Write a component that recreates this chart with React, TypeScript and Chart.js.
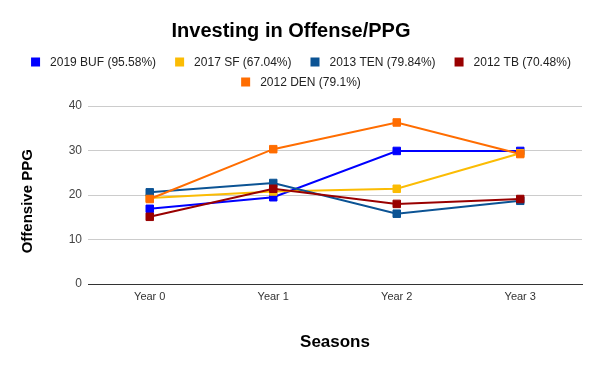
import React, { useEffect, useRef } from 'react';
import { Chart, registerables } from 'chart.js';

Chart.register(...registerables);

const categories = ['Year 0', 'Year 1', 'Year 2', 'Year 3'];
const seriesNames = [
  '2019 BUF (95.58%)',
  '2017 SF (67.04%)',
  '2013 TEN (79.84%)',
  '2012 TB (70.48%)',
  '2012 DEN (79.1%)',
];
const buf = [16.9, 19.5, 29.9, 29.9];
const sf = [19.3, 20.8, 21.4, 29.4];
const ten = [20.6, 22.7, 15.8, 18.7];
const tb = [15.1, 21.4, 18.0, 19.1];
const den = [19.1, 30.3, 36.3, 29.2];
const seriesColors = ['#0000ff', '#fbbc04', '#0b5394', '#990000', '#ff6d01'];
const yMin = 0;
const yMax = 40;
const yStep = 10;

const FONT = '"Liberation Sans", Arial, sans-serif';

const legendPlugin = {
  id: 'customLegend',
  afterDraw(chart: any) {
    const ctx = chart.ctx;
    const items = chart.data.datasets.map((d: any) => ({ text: d.label, color: d.borderColor }));
    const box = 9;
    const gap = 10;
    const itemGap = 19;
    const maxW = chart.width - 20;
    ctx.save();
    ctx.font = `12px ${FONT}`;
    const rows: any[][] = [[]];
    const rowW: number[] = [0];
    items.forEach((it: any) => {
      const w = box + gap + ctx.measureText(it.text).width;
      const r = rows.length - 1;
      const nw = rowW[r] + (rows[r].length ? itemGap : 0) + w;
      if (rows[r].length && nw > maxW) {
        rows.push([{ ...it, w }]);
        rowW.push(w);
      } else {
        rows[r].push({ ...it, w });
        rowW[r] = nw;
      }
    });
    const rowY = [62, 82];
    rows.forEach((row, ri) => {
      let x = chart.width / 2 + 1 - rowW[ri] / 2;
      const y = rowY[ri] ?? 62 + ri * 20;
      row.forEach((it: any) => {
        ctx.fillStyle = it.color;
        ctx.fillRect(x, y - box / 2, box, box);
        ctx.fillStyle = '#222222';
        ctx.textBaseline = 'middle';
        ctx.textAlign = 'left';
        ctx.fillText(it.text, x + box + gap, y + 0.5);
        x += it.w + itemGap;
      });
    });
    ctx.restore();
  },
};

export default function App() {
  const ref = useRef<HTMLCanvasElement | null>(null);

  useEffect(() => {
    document.body.style.margin = '0';
    const canvas = ref.current;
    if (!canvas) return;
    const values = [buf, sf, ten, tb, den];
    const chart = new Chart(canvas, {
      type: 'line',
      data: {
        labels: categories,
        datasets: values.map((v, i) => ({
          label: seriesNames[i],
          data: v,
          borderColor: seriesColors[i],
          backgroundColor: seriesColors[i],
          pointBackgroundColor: seriesColors[i],
          pointBorderColor: seriesColors[i],
          borderWidth: 2,
          pointStyle: 'rect',
          pointRadius: 5.3,
          pointBorderWidth: 1,
          tension: 0,
          fill: false,
          order: values.length - i,
        })),
      },
      options: {
        responsive: false,
        animation: false,
        devicePixelRatio: 1,
        layout: { padding: { left: 0, right: 18, top: 0, bottom: 0 } },
        plugins: {
          legend: { display: false },
          tooltip: { enabled: false },
          title: {
            display: true,
            text: 'Investing in Offense/PPG',
            color: '#000000',
            font: { family: FONT, size: 20, weight: 'bold' },
            padding: { top: 19, bottom: 63 },
          },
        },
        scales: {
          x: {
            offset: true,
            grid: { display: false, drawTicks: false },
            border: { display: true, color: '#333333', width: 1 },
            ticks: {
              color: '#333333',
              font: { family: FONT, size: 11 },
              padding: 6,
            },
            title: {
              display: true,
              text: 'Seasons',
              color: '#000000',
              font: { family: FONT, size: 17, weight: 'bold' },
              padding: { top: 0, bottom: 18 },
            },
            afterFit: (scale: any) => {
              scale.height = 87;
            },
          },
          y: {
            min: yMin,
            max: yMax,
            grid: {
              drawTicks: false,
              color: (c: any) => (c.tick && c.tick.value === 0 ? '#333333' : '#cccccc'),
            },
            border: { display: false },
            ticks: {
              stepSize: yStep,
              color: '#444444',
              font: { family: FONT, size: 12 },
              padding: 6,
            },
            title: {
              display: true,
              text: 'Offensive PPG   ',
              color: '#000000',
              font: { family: FONT, size: 15, weight: 'bold' },
              padding: { top: 19, bottom: 0 },
            },
            afterFit: (scale: any) => {
              scale.width = 88;
            },
          },
        },
      },
      plugins: [legendPlugin],
    });
    return () => chart.destroy();
  }, []);

  return (
    <div style={{ position: 'absolute', left: 0, top: 0, width: 600, height: 371, background: '#ffffff' }}>
      <canvas ref={ref} width={600} height={371} style={{ width: 600, height: 371, display: 'block' }} />
    </div>
  );
}
